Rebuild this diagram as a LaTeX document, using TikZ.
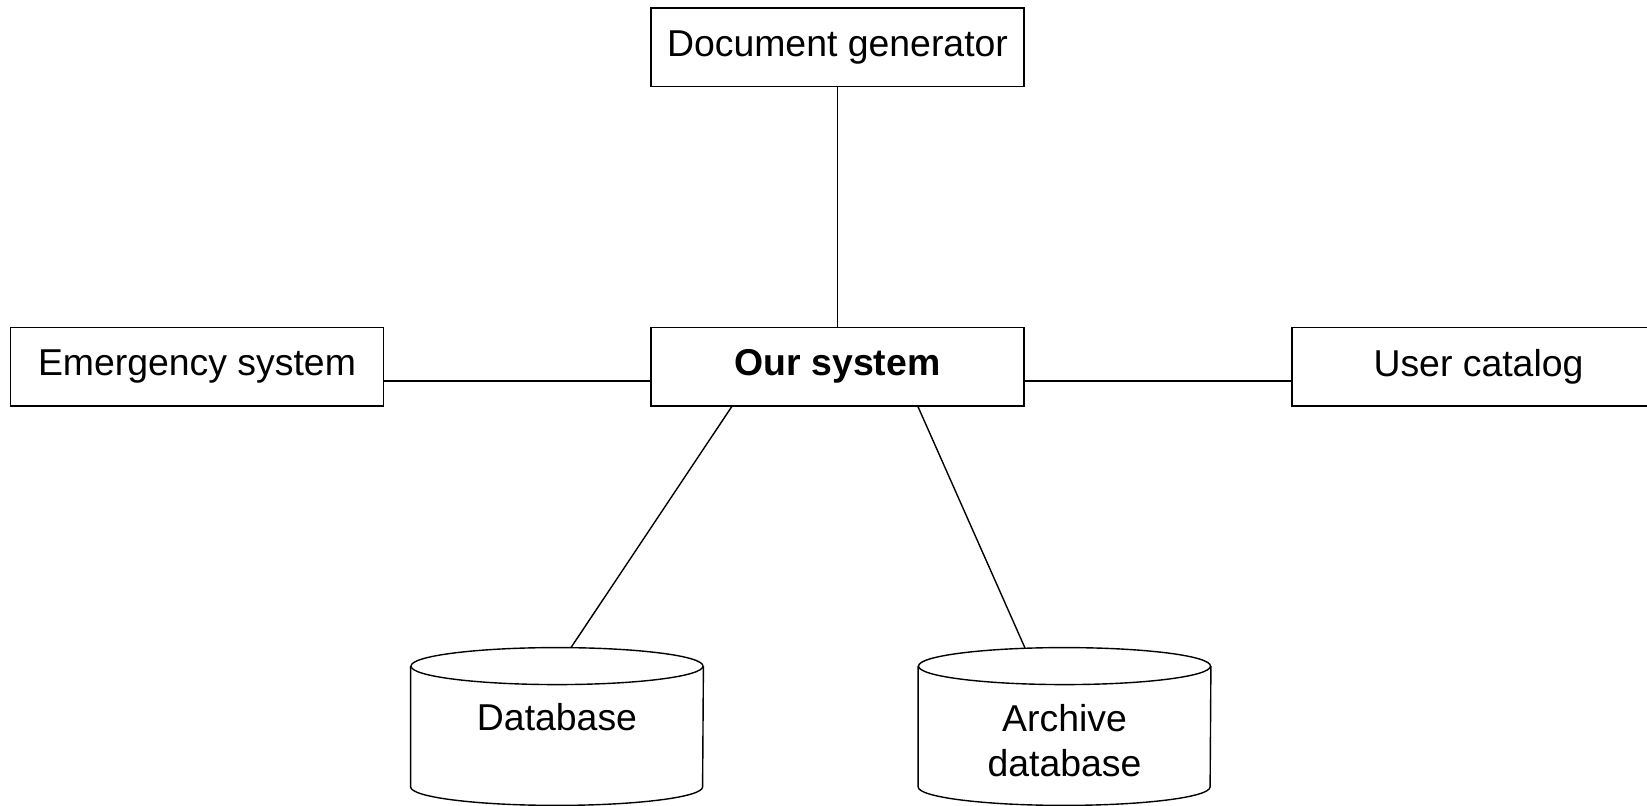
\documentclass[tikz,border=0pt]{standalone}
\usepackage{fontspec}
\setmainfont{Liberation Sans}
\usepackage{tikz}

\tikzset{
    sysbox/.style = {draw, line width=.7pt, minimum width=186.5pt, minimum height=39.3pt, inner sep=0pt},
    dbstore/.style = {minimum width=146pt, minimum height=78.5pt, inner sep=0pt},
    conn/.style = {line width=.7pt}
}

\begin{document}
\begin{tikzpicture}[x=.5pt, y=.5pt, font=\fontsize{18.7pt}{22.5pt}\selectfont]
        \useasboundingbox (0,0) rectangle (1647,806);
        \node[sysbox] (docgen) at (837.5,758.8) {Document generator};
        \node[sysbox] (our) at (837.5,439.3) {\bfseries Our system};
        \node[sysbox] (emerg) at (197,439.3) {Emergency system};
        \node[sysbox] (users) at (1478.5,439.3) {User catalog};
        \node[dbstore] (db) at (557,79.5) {};
        \node[dbstore] (arch) at (1064.5,79.5) {};
        % cylinders
        \foreach \n in {db, arch} {
            \draw[conn] ([yshift=-9.25pt]\n.north west) -- ([yshift=9.25pt]\n.south west)
                arc[start angle=180, end angle=360, x radius=73pt, y radius=9.25pt]
                -- ([yshift=-9.25pt]\n.north east);
            \draw[conn] ([yshift=-9.25pt]\n.north) ellipse[x radius=73pt, y radius=9.25pt];
        }
        \node[anchor=base] (dblabel) at (557,75.3) {Database};
        \node[anchor=base, align=center] (archlabel) at (1064.5,29.3) {Archive\\database};
        \draw[conn] (docgen) -- (our);
        \draw[conn] ([yshift=-7.15pt]emerg.east) -- ([yshift=-7.15pt]our.west);
        \draw[conn] ([yshift=-7.15pt]our.east) -- ([yshift=-7.15pt]users.west);
        \draw[conn] ([xshift=-52.9pt]our.south) -- ([xshift=7pt]db.north);
        \draw[conn] ([xshift=40.25pt]our.south) -- ([xshift=-19.75pt, yshift=-.2pt]arch.north);
    \end{tikzpicture}
\end{document}
